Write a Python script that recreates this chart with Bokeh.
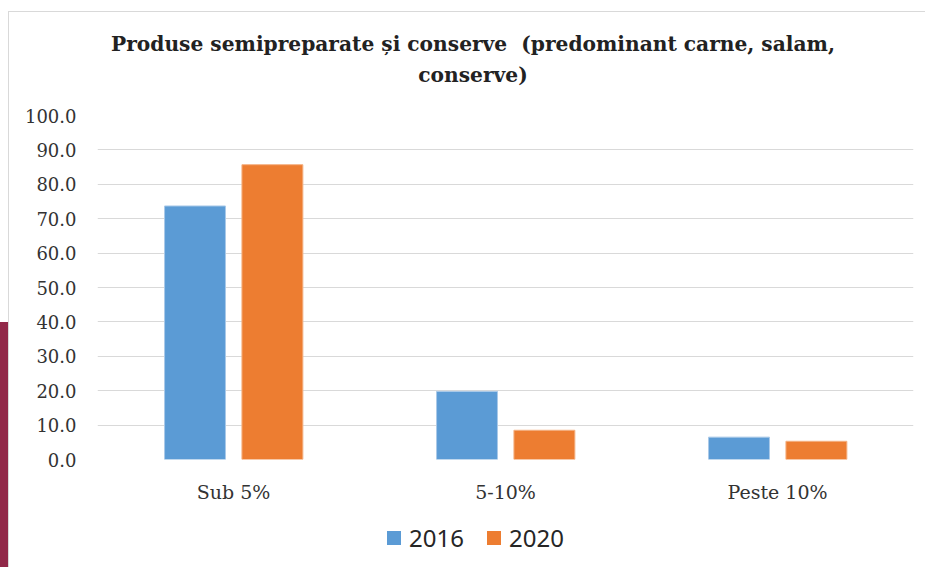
from bokeh.plotting import figure
from bokeh.models import (ColumnDataSource, FactorRange, Range1d, FixedTicker, NumeralTickFormatter, Div)
from bokeh.layouts import column, row
from bokeh.transform import dodge
from bokeh.embed import file_html
from bokeh.resources import INLINE

# ---- data ----
categories = ["Sub 5%", "5-10%", "Peste 10%"]
values_2016 = [73.7, 19.8, 6.5]
values_2020 = [85.7, 8.5, 5.3]
series_names = ["2016", "2020"]
y_ticks = [0, 10, 20, 30, 40, 50, 60, 70, 80, 90, 100]
title_line1 = "Produse semipreparate și conserve  (predominant carne, salam,"
title_line2 = "conserve)"

BLUE = "#5B9BD5"
ORANGE = "#ED7D31"
GRID = "#D9D9D9"

src = ColumnDataSource(dict(cat=categories, v2016=values_2016, v2020=values_2020))

p = figure(x_range=FactorRange(*categories, range_padding=0), y_range=Range1d(0, 100),
           width=916, height=420, output_backend="svg", toolbar_location=None,
           min_border_left=88, min_border_right=12, min_border_bottom=52, min_border_top=24)
p.title.text = ""

r1 = p.vbar(x=dodge("cat", -0.1415, range=p.x_range), top="v2016", width=0.224, source=src,
            fill_color=BLUE, line_color="#A9C9E8", line_width=1)
r2 = p.vbar(x=dodge("cat", 0.143, range=p.x_range), top="v2020", width=0.224, source=src,
            fill_color=ORANGE, line_color="#F4B183", line_width=1)

p.outline_line_color = None
p.xgrid.grid_line_color = None
p.ygrid.grid_line_color = GRID
p.ygrid.grid_line_width = 1
p.ygrid.level = "underlay"

p.yaxis.ticker = FixedTicker(ticks=y_ticks)
p.yaxis.formatter = NumeralTickFormatter(format="0.0")
for ax in (p.xaxis[0], p.yaxis[0]):
    ax.axis_line_color = None
    ax.major_tick_line_color = None
    ax.minor_tick_line_color = None
    ax.major_label_text_font = "DejaVu Serif"
    ax.major_label_text_color = "#333333"
p.yaxis.major_label_text_font_size = "18px"
p.xaxis.major_label_text_font_size = "19px"
p.yaxis.major_label_standoff = 15
p.xaxis.major_label_standoff = 15
p.margin = 0

# title (HTML, above the plot)
def title_line(top, text):
    return (f'<div style="position:absolute;left:12px;top:{top}px;width:904px;text-align:center;'
            f'font-family:\'DejaVu Serif\';font-weight:bold;font-size:20.2px;line-height:20.2px;'
            f'color:#222222;white-space:pre">{text}</div>')

title_div = Div(width=916, height=80, margin=0,
                text='<div style="position:relative;width:916px;height:80px">'
                     + title_line(23, title_line1) + title_line(54, title_line2) + '</div>')

# legend (HTML, below the plot)
def legend_entry(left, color, label):
    return (f'<div style="position:absolute;left:{left}px;top:20px;width:14px;height:14px;background:{color}"></div>'
            f'<div style="position:absolute;left:{left + 22}px;top:15px;font-family:\'Noto Sans\';font-size:24px;'
            f'line-height:24px;color:#262626;white-space:nowrap">{label}</div>')

legend_div = Div(width=916, height=56, margin=0,
                 text='<div style="position:relative;width:916px;height:56px">'
                      + legend_entry(378, BLUE, series_names[0])
                      + legend_entry(478, ORANGE, series_names[1]) + '</div>')

top_line = Div(width=925, height=11, margin=0,
               text='<div style="position:relative;width:925px;height:11px">'
                    '<div style="position:absolute;left:8px;top:10px;width:917px;height:1px;background:#D9D9D9"></div></div>')
left_strip = Div(width=9, height=556, margin=0,
                 text='<div style="position:relative;width:9px;height:556px">'
                      '<div style="position:absolute;left:0;top:311px;width:8px;height:245px;background:#912848"></div>'
                      '<div style="position:absolute;left:8px;top:0;width:1px;height:556px;background:#D9D9D9"></div></div>')

layout = column(top_line,
                row(left_strip, column(title_div, p, legend_div, spacing=0), spacing=0),
                spacing=0)

open("out.html", "w").write(file_html(layout, INLINE))
